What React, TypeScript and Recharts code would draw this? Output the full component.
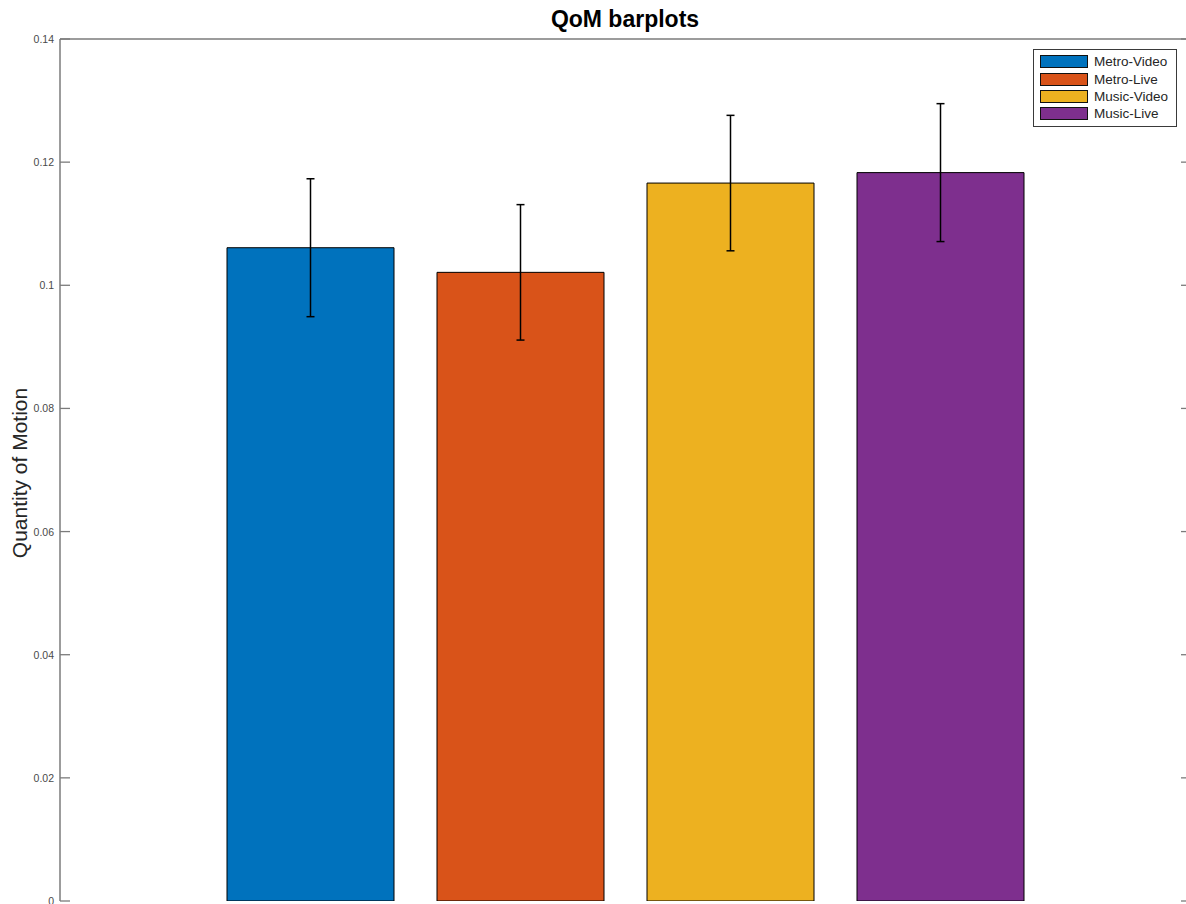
import React from 'react';
import { BarChart, Bar, XAxis, YAxis, ErrorBar, ReferenceLine, Legend } from 'recharts';

const seriesNames = ['Metro-Video', 'Metro-Live', 'Music-Video', 'Music-Live'];
const seriesMeans = [0.1061, 0.1021, 0.1166, 0.1183];
const seriesErrors = [0.0112, 0.0110, 0.0110, 0.0112];
const seriesColors = ['#0072BD', '#D95319', '#EDB120', '#7E2F8E'];
const yTicks = [0, 0.02, 0.04, 0.06, 0.08, 0.1, 0.12, 0.14];
const categoryName = 'QoM';

const row: Record<string, any> = { name: categoryName };
seriesNames.forEach((n, i) => {
  row[n] = seriesMeans[i];
  row[n + '_err'] = seriesErrors[i];
});
const data = [row];

const CHART_W = 1200;
const CHART_H = 904;
const MARGIN = { top: 39, right: 9, bottom: 3, left: 0 };
const PLOT_RIGHT = CHART_W - MARGIN.right;
const AXIS_COLOR = '#7b7b7b';
const FONT = '"Liberation Sans", Arial, Helvetica, sans-serif';

const YTick = (props: any) => {
  const { x, y, payload } = props;
  const v = payload.value;
  const label = String(+Number(v).toFixed(2));
  return (
    <g>
      <line x1={x} x2={x + 10} y1={y} y2={y} stroke={AXIS_COLOR} strokeWidth={1.3} />
      <line x1={PLOT_RIGHT - 10} x2={PLOT_RIGHT} y1={y} y2={y} stroke={AXIS_COLOR} strokeWidth={1.3} />
      <text x={x - 6} y={y} textAnchor="end" dominantBaseline="central" fontSize={10.5} fill="#4a4a4a" fontFamily={FONT}>
        {label}
      </text>
    </g>
  );
};

const LegendContent = () => (
  <div
    style={{
      border: '1.3px solid #3a3a3a',
      background: '#fff',
      padding: '3px 6px 3px 6px',
      fontFamily: FONT,
      fontSize: 13.5,
      color: '#262626',
      width: 130,
      boxSizing: 'content-box',
    }}
  >
    {seriesNames.map((n, i) => (
      <div key={n} style={{ display: 'flex', alignItems: 'center', height: 17.4 }}>
        <div
          style={{
            width: 46,
            height: 11,
            background: seriesColors[i],
            border: '1.3px solid #111',
            marginRight: 6,
          }}
        />
        <span style={{ lineHeight: '17px' }}>{n}</span>
      </div>
    ))}
  </div>
);

export default function App() {
  return (
    <div style={{ position: 'absolute', left: 0, top: 0, width: 1186, height: 904, overflow: 'hidden', background: '#fff' }}>
      <BarChart width={CHART_W} height={CHART_H} data={data} margin={MARGIN} barGap={43}>
        <XAxis dataKey="name" tick={false} tickLine={false} height={0} axisLine={{ stroke: AXIS_COLOR, strokeWidth: 1.5 }} />
        <YAxis
          domain={[0, 0.14]}
          ticks={yTicks}
          width={60}
          tickSize={0}
          tickMargin={0}
          tickLine={false}
          tick={<YTick />}
          interval={0}
          axisLine={{ stroke: AXIS_COLOR, strokeWidth: 1.5 }}
          allowDataOverflow
        />
        <ReferenceLine y={0.14} stroke={AXIS_COLOR} strokeWidth={1.5} />
        <Legend
          align="center"
          verticalAlign="middle"
          content={<LegendContent />}
          wrapperStyle={{ position: 'absolute', left: 1033, top: 49, width: 'auto', height: 'auto' }}
        />
        {seriesNames.map((n, i) => (
          <Bar key={n} dataKey={n} name={n} fill={seriesColors[i]} stroke="#000" strokeWidth={1} barSize={167} isAnimationActive={false}>
            <ErrorBar dataKey={n + '_err'} width={4} stroke="#000" strokeWidth={1.5} direction="y" />
          </Bar>
        ))}
      </BarChart>
      <svg width={1186} height={904} style={{ position: 'absolute', left: 0, top: 0, pointerEvents: 'none' }}>
        <text x={625} y={27} textAnchor="middle" fontSize={23} fontWeight="bold" fill="#000" fontFamily={FONT}>
          QoM barplots
        </text>
        <text
          x={19}
          y={473}
          textAnchor="middle"
          dominantBaseline="central"
          fontSize={21}
          fill="#262626"
          fontFamily={FONT}
          transform="rotate(-90, 19, 473)"
        >
          Quantity of Motion
        </text>
      </svg>
    </div>
  );
}
